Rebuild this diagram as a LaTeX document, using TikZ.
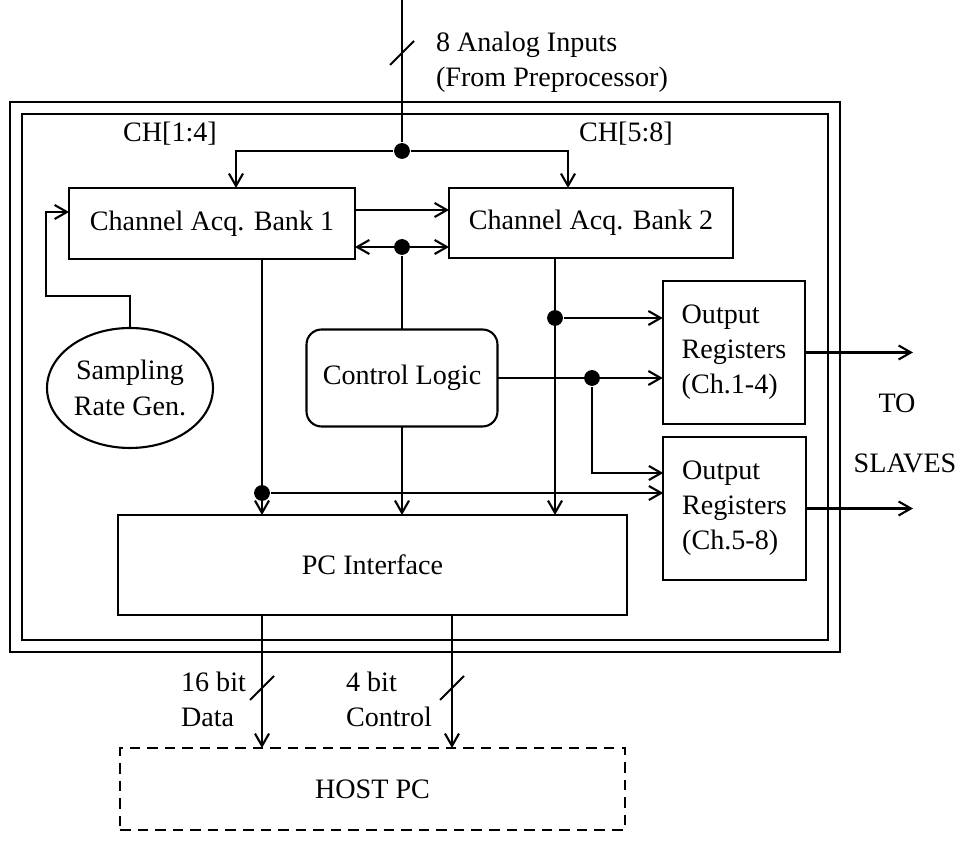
\documentclass[tikz,border=0pt]{standalone}
\usepackage{fontspec}
\setmainfont{Liberation Serif}
\usetikzlibrary{arrows.meta,positioning,calc,shapes.geometric}
\newcommand{\busmark}[1]{\draw ($(#1)+(-12,12)$) -- ++(24,-24);}

\begin{document}
\begin{tikzpicture}[x=0.02cm,y=-0.02cm,line width=1.2pt,
  font=\fontsize{16}{20}\selectfont,
  blk/.style={draw,align=center,inner sep=2pt,outer sep=0pt},
  reg/.style={blk,align=left,minimum width=2.85cm,minimum height=2.86cm},
  ar/.style={-{Straight Barb[length=7pt,width=8pt]}},
  arr/.style={{Straight Barb[length=7pt,width=8pt]}-{Straight Barb[length=7pt,width=8pt]}},
  dot/.style={circle,fill,inner sep=0pt,minimum size=9pt},
  lbl/.style={align=left,inner sep=0pt}
]
\useasboundingbox (0,0) rectangle (961,857);
% board frame
\draw (10,102) rectangle (840,652);
\draw (22,114) rectangle (828,640);

\node[blk,minimum width=5.72cm,minimum height=1.42cm] (bankA) at (212,223.5) {Channel Acq. Bank 1};
\node[blk,minimum width=5.68cm,minimum height=1.4cm] (bankB) at (591,223) {Channel Acq. Bank 2};
\node[blk,rounded corners=0.3cm,minimum width=3.82cm,minimum height=1.94cm] (ctrl) at (402,378) {Control Logic};
\node[blk,ellipse,inner sep=0pt,minimum width=3.32cm,minimum height=2.4cm] (srg) at (130,388) {Sampling\\Rate Gen.};
\node[reg] (outA) at (734,352.5) {Output\\Registers\\(Ch.1-4)};
\node[reg] (outB) at (734.5,508.5) {Output\\Registers\\(Ch.5-8)};
\node[blk,minimum width=10.18cm,minimum height=2cm] (pci) at (372.5,565) {PC Interface};
\node[blk,dash pattern=on 6pt off 4pt,minimum width=10.1cm,minimum height=1.64cm] (host) at (372.5,789) {HOST PC};

% junctions
\node[dot] (jIn) at (402,151) {};
\node[dot] (jCtl) at (402,247) {};
\node[dot] (jB) at (555,318) {};
\node[dot] (jC) at (592,378) {};
\node[dot] (jA) at (262,493) {};
\coordinate (in) at (402,0);
\coordinate (cS) at (46,296);
\coordinate (sl) at (913,0);

% analog inputs
\draw (in) -- (jIn);
\busmark{402,53}
\node[lbl,anchor=west] (ain) at (435,62) {8 Analog Inputs\\(From Preprocessor)};
\draw[ar] (jIn) -| ([xshift=0.48cm]bankA.north);
\draw[ar] (jIn) -| ([xshift=-0.46cm]bankB.north);
\node (chA) at (170,134) {CH[1:4]};
\node (chB) at (626,134) {CH[5:8]};

% bank links
\draw[ar] ([yshift=0.27cm]bankA.east) -- ([yshift=0.27cm]bankA.east -| bankB.west);
\draw[arr] ([yshift=-0.47cm]bankA.east) -- ([yshift=-0.47cm]bankA.east -| bankB.west);
\draw (jCtl) -- (ctrl.north);
\draw[ar] (srg.north) |- (cS) |- ([yshift=0.23cm]bankA.west);

% to PC interface
\draw[ar] ([xshift=1cm]bankA.south) -- ([xshift=1cm]bankA.south |- pci.north);
\draw[ar] ([xshift=-0.72cm]bankB.south) -- ([xshift=-0.72cm]bankB.south |- pci.north);
\draw[ar] (ctrl.south) -- (ctrl.south |- pci.north);

% to output registers
\draw[ar] (jB) -- (jB -| outA.west);
\draw[ar] (ctrl.east) -- (ctrl.east -| outA.west);
\draw[ar] (jC) |- ([yshift=0.71cm]outB.west);
\draw[ar] (jA) -- (jA -| outB.west);
\draw[ar] (outA.east) -- (outA.east -| sl);
\draw[ar] (outB.east) -- (outB.east -| sl);
\node (to) at (897,403) {TO};
\node (slv) at (905,463) {SLAVES};

% host link
\draw[ar] ([xshift=-2.21cm]pci.south) -- ([xshift=-2.21cm]pci.south |- host.north);
\draw[ar] ([xshift=1.59cm]pci.south) -- ([xshift=1.59cm]pci.south |- host.north);
\busmark{262,688}
\busmark{452,688}
\node[lbl,anchor=west] (dat) at (180,699) {16 bit\\Data};
\node[lbl,anchor=west] (ctl) at (345,699) {4 bit\\Control};
\end{tikzpicture}
\end{document}
